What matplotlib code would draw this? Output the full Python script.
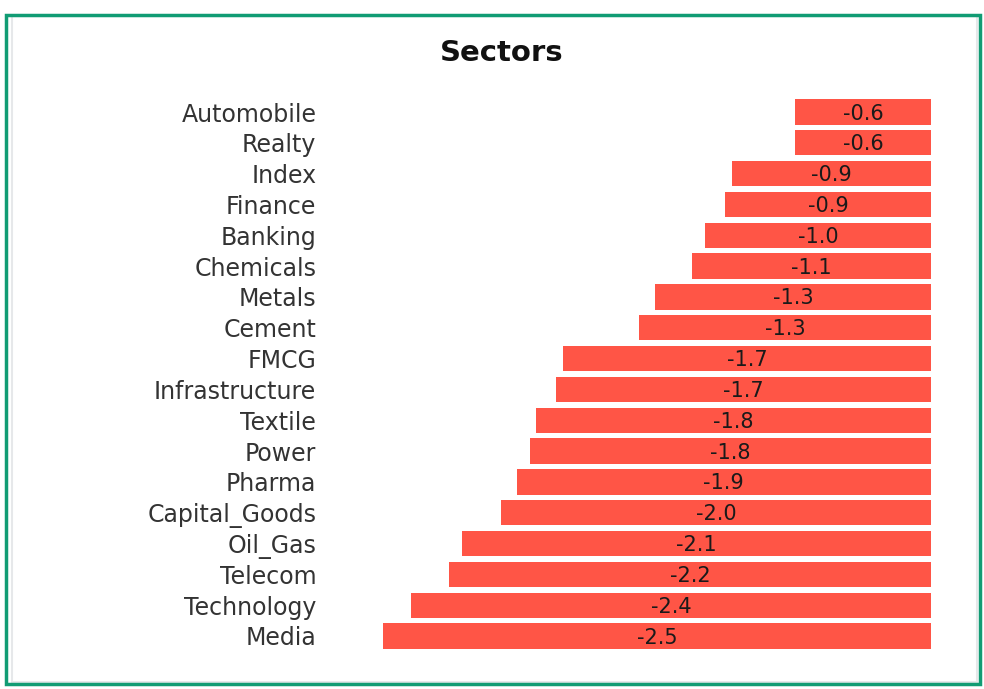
import matplotlib
matplotlib.use('Agg')
import matplotlib.pyplot as plt
from matplotlib.patches import Rectangle

# --- data ---
sectors = ['Automobile', 'Realty', 'Index', 'Finance', 'Banking', 'Chemicals',
           'Metals', 'Cement', 'FMCG', 'Infrastructure', 'Textile', 'Power',
           'Pharma', 'Capital_Goods', 'Oil_Gas', 'Telecom', 'Technology', 'Media']
changes = [-0.62, -0.62, -0.91, -0.94, -1.03, -1.09, -1.26, -1.33, -1.68,
           -1.71, -1.80, -1.83, -1.89, -1.96, -2.14, -2.20, -2.37, -2.50]

BAR_COLOR = '#ff5546'
GREEN = '#119c74'

W, H = 984, 689
fig = plt.figure(figsize=(W / 100, H / 100), dpi=100)
fig.patch.set_facecolor('white')

# card frame: green border with a faint grey inner edge
fig.patches.append(Rectangle((12 / W, 1 - 682 / H), (977 - 12) / W, (682 - 16) / H,
                             transform=fig.transFigure, fill=False,
                             edgecolor='#e6e8ea', linewidth=1.5, zorder=0))
fig.patches.append(Rectangle((6 / W, 1 - 684 / H), (980 - 6) / W, (684 - 15) / H,
                             transform=fig.transFigure, fill=False,
                             edgecolor=GREEN, linewidth=2.5, zorder=1))

ax = fig.add_axes([383 / W, (H - 651.4) / H, 548 / W, 554.8 / H])
ypos = list(range(len(sectors)))
ax.barh(ypos, changes, height=0.82, color=BAR_COLOR)

for y, v in zip(ypos, changes):
    ax.text(v / 2, y + 0.05, f'{v:.1f}', ha='center', va='center',
            fontsize=15, color='#1a1a1a')

ax.set_xlim(min(changes), 0)
ax.set_ylim(len(sectors) - 0.5, -0.5)
ax.set_yticks(ypos)
ax.set_yticklabels(sectors, fontsize=17, color='#333333')
ax.tick_params(axis='y', length=0, pad=48)
ax.set_xticks([])
for s in ax.spines.values():
    s.set_visible(False)
ax.patch.set_alpha(0)

fig.text(502 / W, 1 - 53 / H, 'Sectors', ha='center', va='center',
         fontsize=21, fontweight='bold', color='#111111')

fig.savefig('out.png', dpi=100)
